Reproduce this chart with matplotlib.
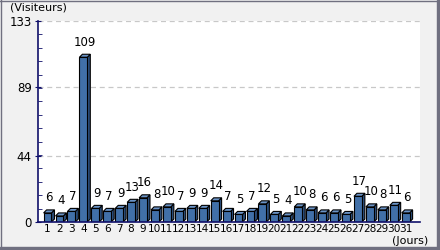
import numpy as np
import matplotlib
matplotlib.use('Agg')
import matplotlib.pyplot as plt
from matplotlib.patches import Polygon, Rectangle
from matplotlib.lines import Line2D

days = np.arange(1, 32)
visitors = [6, 4, 7, 109, 9, 7, 9, 13, 16, 8, 10, 7, 9, 9, 14,
            7, 5, 7, 12, 5, 4, 10, 8, 6, 6, 5, 17, 10, 8, 11, 6]
y_ticks = [0, 44, 89, 133]
y_max = 133

plt.rcParams['font.family'] = ['Liberation Sans Narrow', 'DejaVu Sans']
plt.rcParams['font.size'] = 8.5

navy = '#10106a'
front = '#4170a8'
side = '#2c4f7c'
top = '#6a93c6'

fig = plt.figure(figsize=(4.4, 2.5), dpi=100)
fig.patch.set_facecolor('#f1f1f1')
ax = fig.add_axes([38 / 440, 28 / 250, 382 / 440, 201 / 250])
ax.set_facecolor('white')

w = 0.66     # front face width
dx = 0.25    # depth in x
dy = 2.0     # depth in y

ax.bar(days, visitors, width=w, color=front, edgecolor='black', lw=0.8, zorder=3)
for x, v in zip(days, visitors):
    l, r = x - w / 2, x + w / 2
    ax.add_patch(Polygon([(r, 0), (r + dx, dy), (r + dx, v + dy), (r, v)],
                         closed=True, fc=side, ec='black', lw=0.8, zorder=2))
    ax.add_patch(Polygon([(l, v), (l + dx, v + dy), (r + dx, v + dy), (r, v)],
                         closed=True, fc=top, ec='black', lw=0.8, zorder=2))
    ax.annotate(str(v), (x + dx / 2, v + dy), xytext=(0, 4), textcoords='offset points',
                ha='center', va='bottom', fontsize=8.5, color='black')

ax.set_xlim(0.2, 32.2)
ax.set_ylim(0, y_max)
ax.set_yticks(y_ticks)
ax.set_yticks(np.linspace(0, y_max, 16), minor=True)
ax.set_xticks(days)
ax.set_xticklabels([str(d) for d in days])
ax.tick_params(axis='x', length=0, pad=1.5, labelsize=7.6)
ax.tick_params(axis='y', which='major', direction='inout', length=5, color=navy, labelsize=8.5, pad=2)
ax.tick_params(axis='y', which='minor', direction='in', length=3, color=navy)
for yt in y_ticks[1:]:
    ax.axhline(yt, color='#c8c8c8', lw=0.9, ls=(0, (4, 3)), zorder=1)

for s in ['top', 'right']:
    ax.spines[s].set_visible(False)
for s in ['left', 'bottom']:
    ax.spines[s].set_color(navy)
    ax.spines[s].set_linewidth(1.2)
ax.spines['bottom'].set_zorder(4)

fig.text(10 / 440, 1 - 8 / 250, '(Visiteurs)', fontsize=8, ha='left', va='center')
fig.text(428 / 440, 1 - 241 / 250, '(Jours)', fontsize=8, ha='right', va='center')

# frame around the figure
border = '#707080'
fig.add_artist(Line2D([0, 1], [1 - 0.5 / 250, 1 - 0.5 / 250], color=border, lw=1, transform=fig.transFigure))
fig.add_artist(Line2D([0.5 / 440, 0.5 / 440], [0, 1], color=border, lw=1, transform=fig.transFigure))
fig.add_artist(Rectangle((1 - 3 / 440, 0), 3 / 440, 1, color=border, transform=fig.transFigure))
fig.add_artist(Rectangle((0, 0), 1, 3 / 250, color=border, transform=fig.transFigure))

fig.savefig('out.png', dpi=100, facecolor=fig.get_facecolor())
